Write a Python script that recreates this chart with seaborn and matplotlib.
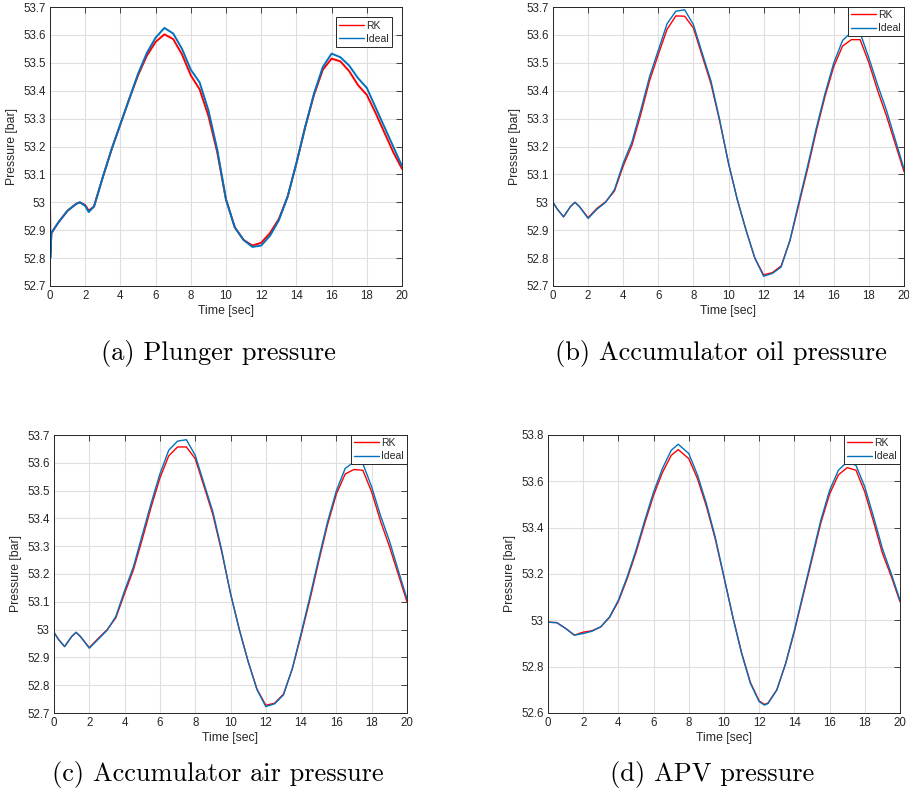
import numpy as np
import pandas as pd
import matplotlib
matplotlib.use("Agg")
import matplotlib.pyplot as plt
import seaborn as sns

# ---------------- data ----------------
t_a = [0, 0.02, 0.08, 0.5, 1.0, 1.5, 1.7, 2.0, 2.2, 2.5, 3.0, 3.5, 4.0, 4.5, 5.0, 5.5, 6.0,
       6.5, 7.0, 7.5, 8.0, 8.5, 9.0, 9.5, 10.0, 10.5, 11.0, 11.5, 12.0, 12.5, 13.0, 13.5,
       14.0, 14.5, 15.0, 15.5, 16.0, 16.5, 17.0, 17.5, 18.0, 18.5, 19.0, 19.5, 20.0]
a_ideal = [53.0, 52.8, 52.89, 52.93, 52.97, 52.995, 53.0, 52.987, 52.965, 52.985, 53.09, 53.19,
           53.28, 53.37, 53.46, 53.535, 53.59, 53.625, 53.605, 53.55, 53.475, 53.43, 53.33,
           53.19, 53.01, 52.91, 52.865, 52.84, 52.845, 52.88, 52.935, 53.02, 53.14, 53.27,
           53.39, 53.485, 53.533, 53.52, 53.49, 53.445, 53.41, 53.34, 53.27, 53.2, 53.13]
a_rk = [53.0, 52.82, 52.89, 52.93, 52.97, 52.995, 53.0, 52.99, 52.97, 52.985, 53.09, 53.19,
        53.28, 53.37, 53.455, 53.525, 53.575, 53.602, 53.585, 53.53, 53.455, 53.405, 53.31,
        53.18, 53.01, 52.91, 52.865, 52.845, 52.855, 52.89, 52.94, 53.02, 53.14, 53.27,
        53.385, 53.475, 53.515, 53.505, 53.47, 53.42, 53.385, 53.32, 53.25, 53.18, 53.12]

t_b = [0, 0.25, 0.6, 1.0, 1.25, 1.5, 2.0, 2.5, 3.0, 3.5, 4.0, 4.5, 5.0, 5.5, 6.0, 6.5, 7.0,
       7.5, 8.0, 8.5, 9.0, 9.5, 10.0, 10.5, 11.0, 11.5, 12.0, 12.5, 13.0, 13.5, 14.0, 14.5,
       15.0, 15.5, 16.0, 16.5, 17.0, 17.5, 18.0, 18.5, 19.0, 19.5, 20.0]
b_ideal = [53.0, 52.975, 52.948, 52.985, 53.0, 52.985, 52.942, 52.975, 53.0, 53.045, 53.14,
           53.217, 53.33, 53.45, 53.545, 53.64, 53.685, 53.69, 53.637, 53.535, 53.435, 53.295,
           53.14, 53.01, 52.9, 52.8, 52.735, 52.745, 52.768, 52.864, 52.998, 53.128, 53.265,
           53.39, 53.5, 53.58, 53.61, 53.607, 53.517, 53.42, 53.33, 53.225, 53.12]
b_rk = [53.0, 52.975, 52.948, 52.985, 53.0, 52.985, 52.945, 52.978, 53.002, 53.04, 53.13,
        53.205, 53.315, 53.435, 53.53, 53.62, 53.668, 53.667, 53.625, 53.525, 53.425, 53.29,
        53.14, 53.01, 52.9, 52.8, 52.74, 52.748, 52.772, 52.862, 52.99, 53.118, 53.255,
        53.38, 53.487, 53.56, 53.583, 53.583, 53.5, 53.4, 53.31, 53.21, 53.11]

t_c = t_b
c_ideal = [52.99, 52.965, 52.939, 52.975, 52.99, 52.975, 52.933, 52.965, 52.997, 53.047, 53.14,
           53.226, 53.34, 53.454, 53.56, 53.645, 53.678, 53.683, 53.627, 53.525, 53.424, 53.286,
           53.13, 53.0, 52.885, 52.784, 52.723, 52.733, 52.765, 52.86, 52.987, 53.118, 53.256,
           53.388, 53.5, 53.58, 53.603, 53.597, 53.513, 53.41, 53.32, 53.214, 53.11]
c_rk = [52.99, 52.965, 52.939, 52.975, 52.99, 52.975, 52.935, 52.968, 52.999, 53.042, 53.13,
        53.215, 53.325, 53.44, 53.545, 53.625, 53.657, 53.657, 53.615, 53.515, 53.414, 53.28,
        53.13, 53.0, 52.885, 52.786, 52.728, 52.735, 52.768, 52.858, 52.98, 53.108, 53.246,
        53.378, 53.488, 53.56, 53.576, 53.573, 53.495, 53.39, 53.3, 53.2, 53.1]

t_d = [0, 0.5, 1.0, 1.5, 2.0, 2.5, 3.0, 3.5, 4.0, 4.5, 5.0, 5.5, 6.0, 6.5, 7.0, 7.4, 8.0,
       8.5, 9.0, 9.5, 10.0, 10.5, 11.0, 11.5, 12.0, 12.3, 12.5, 13.0, 13.5, 14.0, 14.5, 15.0,
       15.5, 16.0, 16.5, 17.0, 17.5, 18.0, 18.5, 19.0, 19.5, 20.0]
d_ideal = [52.992, 52.99, 52.965, 52.936, 52.943, 52.953, 52.972, 53.015, 53.087, 53.188,
           53.303, 53.432, 53.554, 53.655, 53.734, 53.76, 53.72, 53.626, 53.504, 53.36, 53.188,
           53.015, 52.857, 52.728, 52.649, 52.634, 52.641, 52.699, 52.814, 52.958, 53.116,
           53.274, 53.432, 53.561, 53.648, 53.684, 53.669, 53.576, 53.446, 53.31, 53.202, 53.087]
d_rk = [52.992, 52.99, 52.965, 52.936, 52.949, 52.955, 52.972, 53.013, 53.082, 53.18, 53.293,
        53.42, 53.54, 53.638, 53.712, 53.737, 53.698, 53.61, 53.492, 53.352, 53.185, 53.015,
        52.86, 52.732, 52.652, 52.637, 52.643, 52.7, 52.812, 52.952, 53.108, 53.264, 53.42,
        53.545, 53.628, 53.659, 53.648, 53.554, 53.425, 53.29, 53.19, 53.08]

yticks_abc = [52.7, 52.8, 52.9, 53.0, 53.1, 53.2, 53.3, 53.4, 53.5, 53.6, 53.7]
ylabels_abc = ["52.7", "52.8", "52.9", "53", "53.1", "53.2", "53.3", "53.4", "53.5", "53.6", "53.7"]
yticks_d = [52.6, 52.8, 53.0, 53.2, 53.4, 53.6, 53.8]
ylabels_d = ["52.6", "52.8", "53", "53.2", "53.4", "53.6", "53.8"]
xticks = [0, 2, 4, 6, 8, 10, 12, 14, 16, 18, 20]

captions = ["(a) Plunger pressure", "(b) Accumulator oil pressure",
            "(c) Accumulator air pressure", "(d) APV pressure"]
series_names = ["RK", "Ideal"]

# ---------------- style ----------------
sns.set_theme(style="white")
plt.rcParams["font.family"] = ["Liberation Sans", "DejaVu Sans"]
TXT = "#262626"
palette = {"RK": "#FF0000", "Ideal": "#0072BD"}

fig = plt.figure(figsize=(9.09, 7.99), dpi=100)
W, H = 909, 799

def px_axes(x0, y0, x1, y1):
    return fig.add_axes([x0 / W, 1 - y1 / H, (x1 - x0) / W, (y1 - y0) / H])

panels = [
    (px_axes(50, 7, 402, 286), t_a, a_rk, a_ideal, yticks_abc, ylabels_abc, (52.7, 53.7), True, 1.4),
    (px_axes(553, 7, 904, 286), t_b, b_rk, b_ideal, yticks_abc, ylabels_abc, (52.7, 53.7), False, 1.0),
    (px_axes(54, 435, 407, 713), t_c, c_rk, c_ideal, yticks_abc, ylabels_abc, (52.7, 53.7), False, 1.0),
    (px_axes(548, 435, 900, 713), t_d, d_rk, d_ideal, yticks_d, ylabels_d, (52.6, 53.8), False, 1.0),
]

for ax, t, rk, ideal, yt, yl, ylim, inset, lw in panels:
    df = pd.DataFrame({
        "Time": list(t) + list(t),
        "Pressure": list(rk) + list(ideal),
        "Series": [series_names[0]] * len(t) + [series_names[1]] * len(t),
    })
    sns.lineplot(data=df, x="Time", y="Pressure", hue="Series", palette=palette,
                 ax=ax, linewidth=lw, sort=False, estimator=None)
    ax.set_xlim(0, 20)
    ax.set_ylim(*ylim)
    ax.set_xticks(xticks)
    ax.set_xticklabels([str(v) for v in xticks])
    ax.set_yticks(yt)
    ax.set_yticklabels(yl)
    ax.grid(True, color="#DFDFDF", linewidth=0.8)
    ax.set_axisbelow(True)
    ax.tick_params(axis="both", direction="in", length=4, width=0.6, colors=TXT,
                   labelsize=8.3, top=True, right=True, pad=3)
    for s in ax.spines.values():
        s.set_color(TXT)
        s.set_linewidth(0.7)
        s.set_visible(True)
    ax.set_xlabel("Time [sec]", fontsize=8.8, color=TXT, labelpad=2)
    ax.set_ylabel("Pressure [bar]", fontsize=8.8, color=TXT, labelpad=4)
    leg = ax.legend(title=None, loc="upper right", fontsize=7.5, frameon=True,
                    fancybox=False, framealpha=1, edgecolor="#262626",
                    borderaxespad=(1.0 if inset else 0.0), handlelength=2.4,
                    handletextpad=0.2, borderpad=0.3, labelspacing=0.3)
    leg.get_frame().set_linewidth(0.7)
    for line in leg.get_lines():
        line.set_linewidth(1.0)

cap_pos = [(218, 354), (721, 354), (218, 774), (712, 774)]
for (cx, cy), cap in zip(cap_pos, captions):
    fig.text(cx / W, 1 - cy / H, cap, ha="center", va="center",
             fontsize=19, family=["cmr10", "DejaVu Serif"], color="black")

fig.savefig("out.png", dpi=100)
